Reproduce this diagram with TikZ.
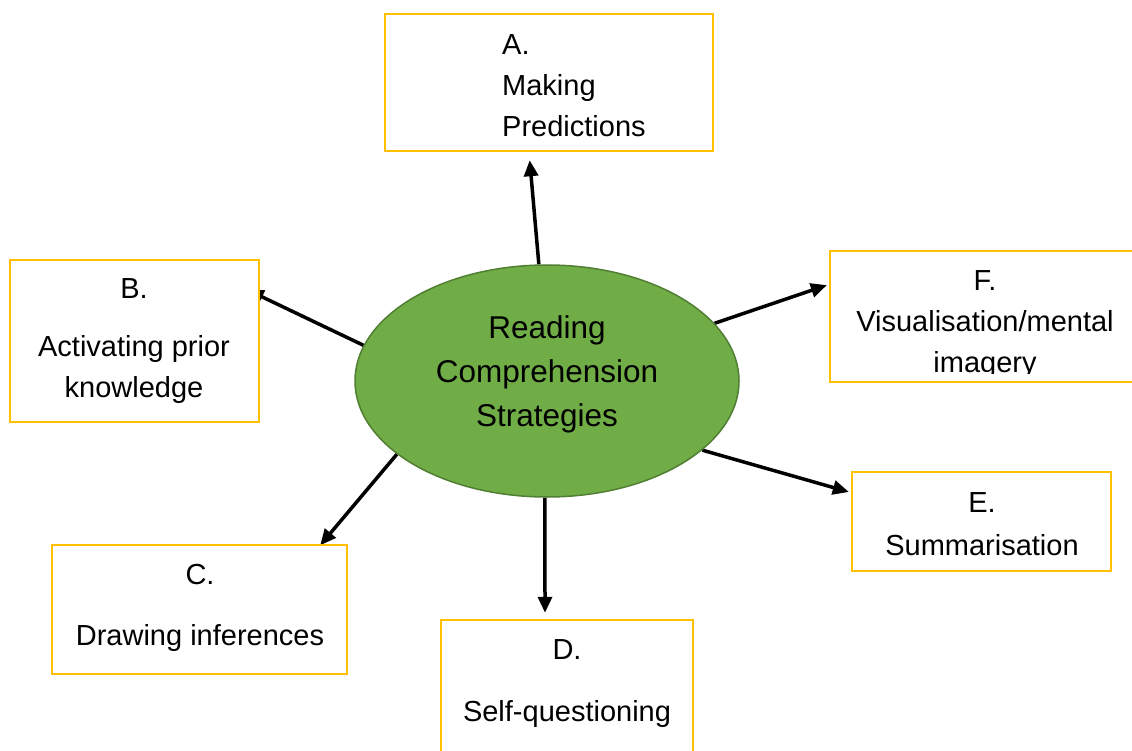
\documentclass[tikz,border=0pt]{standalone}
\usepackage{fontspec}
\setmainfont{Liberation Sans}
\usetikzlibrary{arrows.meta,shapes.geometric,backgrounds}
\definecolor{boxgold}{HTML}{FFC000}
\definecolor{ellgreen}{HTML}{70AD47}
\definecolor{ellrim}{HTML}{507E32}

\begin{document}
\begin{tikzpicture}[%
        x=1pt, y=-1pt,
        every node/.style={font=\fontsize{29}{41}\selectfont, inner sep=0pt},
        stratbox/.style={rectangle, draw=boxgold, line width=2.5pt, fill=white},
        strattext/.style={align=center},
        link/.style={-{Triangle[length=16pt,width=14pt]}, line width=3.5pt}
      ]
      \useasboundingbox (0,0) rectangle (1132,751);
      \clip (0,0) rectangle (1132,751);
      \node [ellipse, draw=ellrim, line width=1.5pt, fill=ellgreen,
             minimum width=384pt, minimum height=232pt] (rcs) at (547,381) {};
      \node [strattext, font=\fontsize{31.5}{44}\selectfont] (rcsText) at (547,374)
             {Reading\\Comprehension\\Strategies};
      % the six strategies
      \node [stratbox, minimum width=328pt, minimum height=137pt] (stratA) at (549,82.5) {};
      \node [stratbox, minimum width=249pt, minimum height=162pt] (stratB) at (134.5,341) {};
      \node [stratbox, minimum width=295pt, minimum height=129pt] (stratC) at (199.5,609.5) {};
      \node [stratbox, minimum width=252pt, minimum height=160pt] (stratD) at (567,700) {};
      \node [stratbox, minimum width=259pt, minimum height=99pt] (stratE) at (981.5,521.5) {};
      \node [stratbox, minimum width=310pt, minimum height=131pt] (stratF) at (985,316.5) {};
      \node [align=left, anchor=west] (labA) at (502,86) {A.\\Making\\Predictions};
      \node [strattext] (labB) at (134,341) {B.\\[17pt]Activating prior\\knowledge};
      \node [strattext] (labC) at (200,608) {C.\\[20pt]Drawing inferences};
      \node [strattext] (labD) at (567,684) {D.\\[21pt]Self-questioning};
      \node [strattext] (labE) at (982,524) {E.\\[2pt]Summarisation};
      \begin{scope}
        \clip (stratF.north west) rectangle ([yshift=10]stratF.south east);
        \node [strattext] (labF) at (985,325) {F.\\Visualisation/mental\\imagery};
      \end{scope}
      \begin{scope}[on background layer]
        \draw [link, shorten >=8pt] (rcs.94) -- ([xshift=-20]stratA.south);
        \draw [link, shorten >=-14pt] (rcs.169) -- ([yshift=45]stratB.east);
        \draw [link, shorten >=-2pt] (rcs.206) -- ([xshift=122]stratC.north);
        \draw [link, shorten >=6pt] (rcs.269) -- ([xshift=-22]stratD.north);
        \draw [link, shorten >=2pt] (rcs.-24) -- ([yshift=29]stratE.west);
        \draw [link, shorten >=2pt] (rcs.19) -- ([yshift=32]stratF.west);
      \end{scope}
    \end{tikzpicture}
\end{document}
